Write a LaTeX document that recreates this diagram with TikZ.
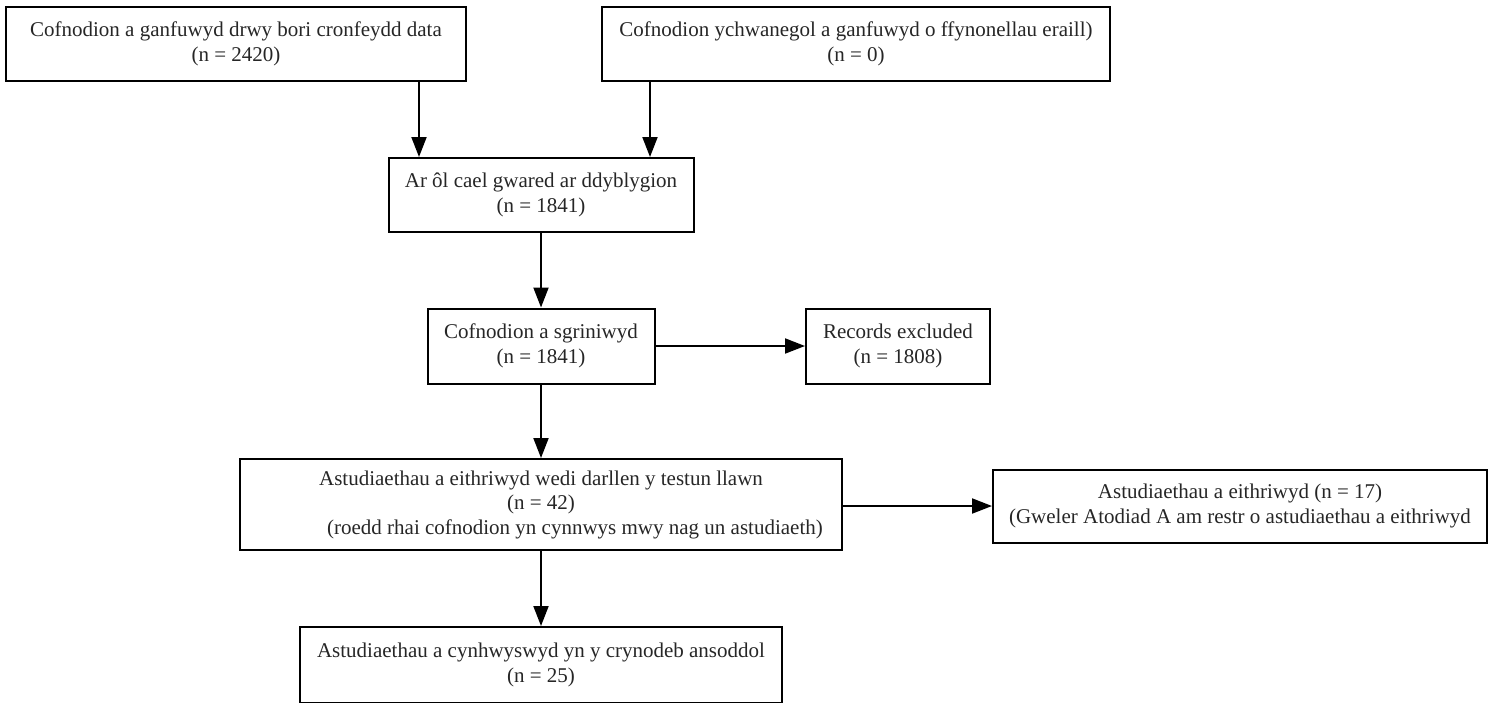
\documentclass[tikz,border=0pt]{standalone}
\usepackage{fontspec}
\setmainfont{Liberation Serif}
\usetikzlibrary{arrows.meta}
\begin{document}
\begin{tikzpicture}[x=1pt,y=-1pt,
  box/.style={draw=black, line width=2pt, inner sep=0pt, align=center,
    font=\fontsize{21}{24.5}\selectfont, text=black!85},
  arr/.style={line width=2pt, -{Triangle[length=20pt,width=15pt]}}]
\useasboundingbox (0,0) rectangle (1491,702);
\node[box, minimum width=460pt, minimum height=74pt] (A) at (236,44)
  {Cofnodion a ganfuwyd drwy bori cronfeydd data\\(n = 2420)};
\node[box, minimum width=508pt, minimum height=74pt] (B) at (856,44)
  {Cofnodion ychwanegol a ganfuwyd o ffynonellau eraill)\\(n = 0)};
\node[box, minimum width=305pt, minimum height=74pt] (C) at (541,195)
  {Ar ôl cael gwared ar ddyblygion\\(n = 1841)};
\node[box, minimum width=227pt, minimum height=75pt] (D) at (541,346)
  {Cofnodion a sgriniwyd\\(n = 1841)};
\node[box, minimum width=184pt, minimum height=75pt] (E) at (898,346)
  {Records excluded\\(n = 1808)};
\node[box, minimum width=602pt, minimum height=91pt] (F) at (541,504.5)
  {Astudiaethau a eithriwyd wedi darllen y testun llawn\\(n = 42)\\\hspace*{68pt}(roedd rhai cofnodion yn cynnwys mwy nag un astudiaeth)};
\node[box, minimum width=494pt, minimum height=73pt] (G) at (1240,506)
  {Astudiaethau a eithriwyd (n = 17)\\(Gweler Atodiad A am restr o astudiaethau a eithriwyd};
\node[box, minimum width=482pt, minimum height=76pt] (H) at (541,665)
  {Astudiaethau a cynhwyswyd yn y crynodeb ansoddol\\(n = 25)};
\coordinate (xa) at (419,0);
\coordinate (xb) at (650,0);
\draw[arr] (A.south -| xa) -- (C.north -| xa);
\draw[arr] (B.south -| xb) -- (C.north -| xb);
\draw[arr] (C) -- (D);
\draw[arr] (D) -- (E);
\draw[arr] (D) -- (F);
\draw[arr] (F.east |- G.west) -- (G.west);
\draw[arr] (F) -- (H);
\end{tikzpicture}
\end{document}
